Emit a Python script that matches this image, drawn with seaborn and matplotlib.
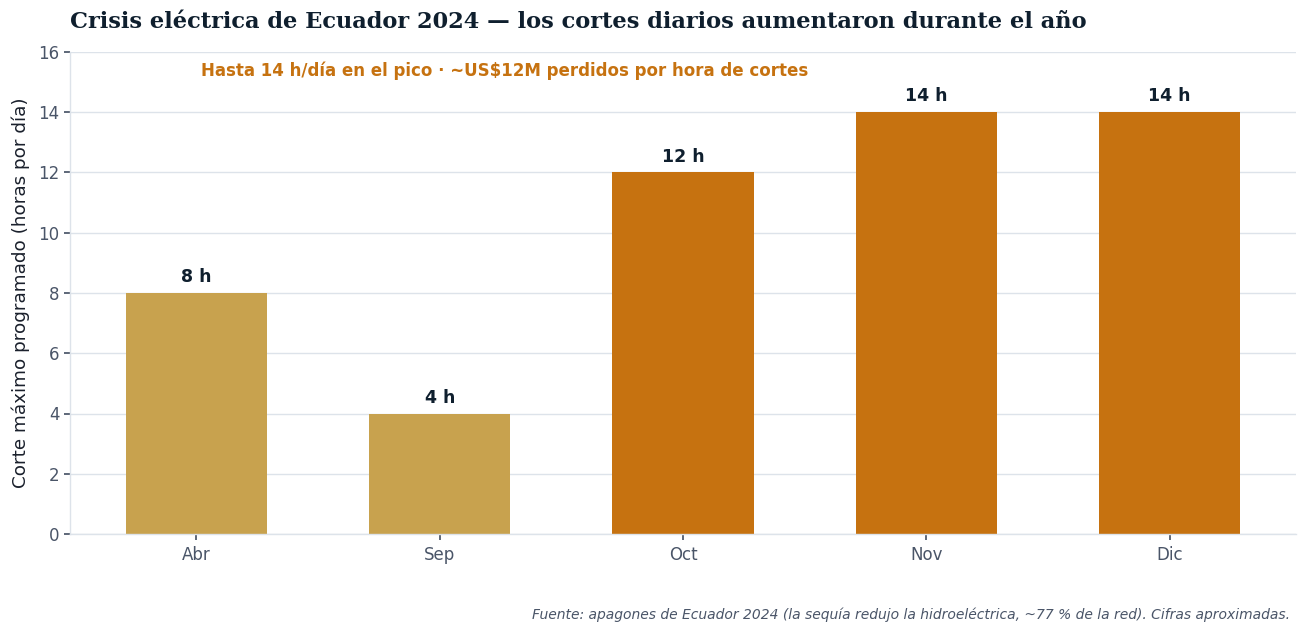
import matplotlib
matplotlib.use("Agg")
import matplotlib.pyplot as plt
import seaborn as sns
import pandas as pd

months = ["Abr", "Sep", "Oct", "Nov", "Dic"]
hours = [8, 4, 12, 14, 14]
bar_colors = ["#C8A24E", "#C8A24E", "#C67210", "#C67210", "#C67210"]

sns.set_theme(style="whitegrid")
plt.rcParams["font.family"] = ["DejaVu Sans"]

df = pd.DataFrame({"mes": months, "horas": hours})

fig = plt.figure(figsize=(13.07, 6.33), dpi=100)
ax = fig.add_axes([70 / 1307, (633 - 534) / 633, 1226 / 1307, 482 / 633])

sns.barplot(data=df, x="mes", y="horas", hue="mes", palette=bar_colors,
            legend=False, width=0.58, saturation=1, linewidth=0,
            edgecolor="none", ax=ax)

ax.set_ylim(0, 16)
ax.set_xlim(-0.52, 4.52)
ax.set_yticks(range(0, 17, 2))
ax.grid(axis="y", color="#DDE3EA", linewidth=1)
ax.grid(axis="x", visible=False)
ax.set_axisbelow(True)
ax.set_facecolor("white")
for side in ["top", "right"]:
    ax.spines[side].set_visible(False)
for side in ["left", "bottom"]:
    ax.spines[side].set_color("#DDE3EA")
    ax.spines[side].set_linewidth(1)
ax.tick_params(axis="both", colors="#4A5568", labelsize=12, length=4,
               left=True, bottom=True)
ax.tick_params(axis="x", pad=5)
ax.set_xlabel("")
ax.set_ylabel("Corte máximo programado (horas por día)", fontsize=13.2,
              color="#1A202C", labelpad=6)

for i, v in enumerate(hours):
    ax.annotate(f"{v} h", (i, v), xytext=(0, 5), textcoords="offset points",
                ha="center", va="bottom", fontsize=12.5, fontweight="bold",
                color="#0F1F2E")

ax.text(0.107, 0.961, "Hasta 14 h/día en el pico · ~US$12M perdidos por hora de cortes",
        transform=ax.transAxes, ha="left", va="center", fontsize=12,
        fontweight="bold", color="#C67210")

fig.text(70 / 1307, 1 - 22 / 633,
         "Crisis eléctrica de Ecuador 2024 — los cortes diarios aumentaron durante el año",
         ha="left", va="center", fontsize=16.2, fontweight="bold",
         family="DejaVu Serif", color="#0F1F2E")

fig.text(1290 / 1307, 1 - 615 / 633,
         "Fuente: apagones de Ecuador 2024 (la sequía redujo la hidroeléctrica, ~77 % de la red). Cifras aproximadas.",
         ha="right", va="center", fontsize=10, style="italic", color="#4A5568")

fig.savefig("out.png", dpi=100)
